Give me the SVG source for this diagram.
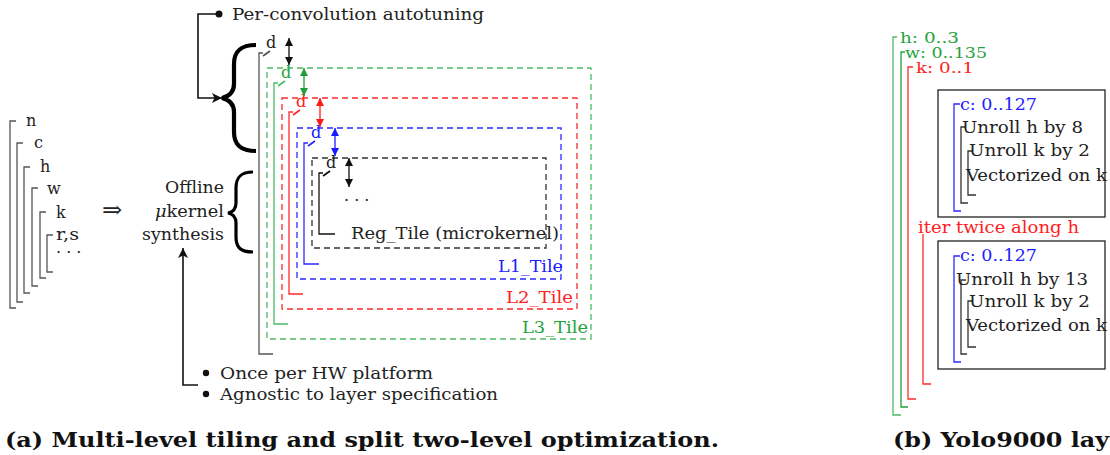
<svg xmlns="http://www.w3.org/2000/svg" width="1110" height="455" viewBox="0 0 1110 455">
<style>
text{font-family:"DejaVu Serif","Liberation Serif",serif;font-size:16px;fill:#222}
.sm{font-size:16px}
.lp{font-size:15px}
.cap{font-weight:bold;font-size:20px;fill:#111}
.br{fill:none;stroke:#555;stroke-width:1.3}
.k{fill:none;stroke:#111;stroke-width:1.3}
.g{fill:none;stroke:#4cbb66;stroke-width:1.3}
.gd{fill:none;stroke:#1f9e3c;stroke-width:1.3}
.r{fill:none;stroke:#ff2a2a;stroke-width:1.3}
.b{fill:none;stroke:#2a2aff;stroke-width:1.3}
.dash{stroke-dasharray:6 4}
.tg{fill:#1fa33b}.tr{fill:#ff2020}.tb{fill:#2020ff}
.ln{fill:none;stroke:#111;stroke-width:1.6}
.brace{fill:none;stroke:#000}
.sl{stroke-width:1.8}
</style>
<defs>
<marker id="ak" viewBox="0 0 8 8" refX="8" refY="4" markerWidth="8" markerHeight="8" markerUnits="userSpaceOnUse" orient="auto-start-reverse"><path d="M0,0L8,4L0,8z" fill="#111"/></marker>
<marker id="ag" viewBox="0 0 8 8" refX="8" refY="4" markerWidth="8" markerHeight="8" markerUnits="userSpaceOnUse" orient="auto-start-reverse"><path d="M0,0L8,4L0,8z" fill="#1f9e3c"/></marker>
<marker id="ar" viewBox="0 0 8 8" refX="8" refY="4" markerWidth="8" markerHeight="8" markerUnits="userSpaceOnUse" orient="auto-start-reverse"><path d="M0,0L8,4L0,8z" fill="#ff1a1a"/></marker>
<marker id="ab" viewBox="0 0 8 8" refX="8" refY="4" markerWidth="8" markerHeight="8" markerUnits="userSpaceOnUse" orient="auto-start-reverse"><path d="M0,0L8,4L0,8z" fill="#1a1aff"/></marker>
<marker id="big" viewBox="0 0 10 10" refX="10" refY="5" markerWidth="10" markerHeight="10" markerUnits="userSpaceOnUse" orient="auto"><path d="M0,0L10,5L0,10L2.5,5z" fill="#111"/></marker>
</defs>

<!-- (a) loop nest -->
<g id="loopnest">
<path class="br" d="M16,121H10V308H16"/>
<path class="br" d="M23,143H17V302H23"/>
<path class="br" d="M30,167H24V293H30"/>
<path class="br" d="M38,188H32V286H38"/>
<path class="br" d="M46,212H40V278H46"/>
<path class="br" d="M53,235H47V272H53"/>
<text x="26" y="126">n</text>
<text x="34" y="148">c</text>
<text x="40" y="172">h</text>
<text x="47" y="194">w</text>
<text x="56" y="218">k</text>
<text x="56" y="240" textLength="23" lengthAdjust="spacingAndGlyphs">r,s</text>
<text x="56" y="258">· · ·</text>
</g>
<g id="implies"><text x="102" y="218" style="font-size:24px">⇒</text></g>

<g id="offline">
<text x="224" y="193" text-anchor="end" textLength="59" lengthAdjust="spacingAndGlyphs">Offline</text>
<text x="224" y="217" text-anchor="end" textLength="69" lengthAdjust="spacingAndGlyphs"><tspan font-style="italic">μ</tspan>kernel</text>
<text x="224" y="240" text-anchor="end" textLength="82" lengthAdjust="spacingAndGlyphs">synthesis</text>
<path class="brace" stroke-width="3.2" d="M253,172C240,172 236,178 236,188V203C236,209 233,212 228,213C233,214 236,217 236,223V237C236,247 240,252 253,252"/>
</g>

<g id="autotune">
<path class="brace" stroke-width="4.2" d="M256,45C240,45 234,52 234,64V84C234,92 230,96 222,98C230,100 234,104 234,112V132C234,144 240,151 256,151"/>
<circle cx="219" cy="14" r="3.5" fill="#111"/>
<text x="232" y="20" textLength="252" lengthAdjust="spacingAndGlyphs">Per-convolution autotuning</text>
</g>

<g id="bullets">
<circle cx="206" cy="373" r="3.2" fill="#111"/>
<circle cx="206" cy="394" r="3.2" fill="#111"/>
<text x="220" y="379" textLength="213" lengthAdjust="spacingAndGlyphs">Once per HW platform</text>
<text x="220" y="400" textLength="278" lengthAdjust="spacingAndGlyphs">Agnostic to layer specification</text>
</g>

<!-- tiles -->
<g id="tiles">
<rect class="g dash" x="267" y="68" width="324" height="271"/>
<rect class="r dash" x="282" y="98" width="295" height="211"/>
<rect class="b dash" x="297" y="128" width="264" height="151"/>
<rect class="k dash" x="312" y="158" width="234" height="90" style="stroke:#333"/>

<path class="br" d="M263,53H259V354H273"/>
<path class="g" d="M278,83H274V324H288"/>
<path class="r" d="M293,112H289V294H303"/>
<path class="b" d="M308,143H304V264H319"/>
<path class="k" d="M323,173H319V234H335"/>

<path class="br sl" d="M263,56L270,51"/>
<path class="g sl" d="M278,86L285,81"/>
<path class="r sl" d="M293,115L300,110"/>
<path class="b sl" d="M308,146L315,141"/>
<path class="k sl" d="M323,176L330,171"/>

<text class="sm" x="266" y="48">d</text>
<text class="sm tg" x="281" y="78">d</text>
<text class="sm tr" x="296" y="107">d</text>
<text class="sm tb" x="311" y="138">d</text>
<text class="sm" x="326" y="168">d</text>

<text x="344" y="206">· · ·</text>
<text x="351" y="239" textLength="208" lengthAdjust="spacingAndGlyphs">Reg_Tile (microkernel)</text>
<text class="tb" x="563" y="272" text-anchor="end" textLength="65" lengthAdjust="spacingAndGlyphs">L1_Tile</text>
<text class="tr" x="573" y="303" text-anchor="end" textLength="67" lengthAdjust="spacingAndGlyphs">L2_Tile</text>
<text class="tg" x="588" y="333" text-anchor="end" textLength="66" lengthAdjust="spacingAndGlyphs">L3_Tile</text>
</g>

<!-- connectors -->
<g id="connectors">
<line x1="289" y1="38" x2="289" y2="65" stroke="#111" stroke-width="1.3" marker-start="url(#ak)" marker-end="url(#ak)"/>
<line x1="304" y1="68" x2="304" y2="96" stroke="#1f9e3c" stroke-width="1.3" marker-start="url(#ag)" marker-end="url(#ag)"/>
<line x1="320" y1="98" x2="320" y2="127" stroke="#ff1a1a" stroke-width="1.3" marker-start="url(#ar)" marker-end="url(#ar)"/>
<line x1="335" y1="128" x2="335" y2="156" stroke="#1a1aff" stroke-width="1.3" marker-start="url(#ab)" marker-end="url(#ab)"/>
<line x1="349" y1="158" x2="349" y2="187" stroke="#111" stroke-width="1.3" marker-start="url(#ak)" marker-end="url(#ak)"/>
<path class="ln" d="M219,14H198V98H222" marker-end="url(#big)"/>
<path class="ln" d="M198,385H183V248" marker-end="url(#big)"/>
</g>

<!-- (b) -->
<g id="yolo">
<path class="g" d="M897,37H893V415H901"/>
<path class="gd" d="M905,52H901V407H908"/>
<path class="r" d="M913,67H908V399H916"/>
<text class="tg lp" x="900" y="43" textLength="59" lengthAdjust="spacingAndGlyphs">h: 0..3</text>
<text class="tg lp" x="905" y="58" textLength="82" lengthAdjust="spacingAndGlyphs">w: 0..135</text>
<text class="tr lp" x="916" y="73" textLength="58" lengthAdjust="spacingAndGlyphs">k: 0..1</text>

<rect x="938" y="90" width="167" height="127" fill="none" stroke="#222" stroke-width="1.3"/>
<path class="b" d="M960,104H954V211H961"/>
<path class="k" d="M966,127H961V203H968" style="stroke:#333"/>
<path class="k" d="M973,151H968V195H976" style="stroke:#333"/>
<text class="tb" x="960" y="110" textLength="77" lengthAdjust="spacingAndGlyphs">c: 0..127</text>
<text x="962" y="133" textLength="121" lengthAdjust="spacingAndGlyphs">Unroll h by 8</text>
<text x="969" y="156" textLength="121" lengthAdjust="spacingAndGlyphs">Unroll k by 2</text>
<text x="966" y="181" textLength="141" lengthAdjust="spacingAndGlyphs">Vectorized on k</text>

<text class="tr" x="918" y="233" textLength="161" lengthAdjust="spacingAndGlyphs">iter twice along h</text>
<path class="r" d="M923,234V384H931"/>

<rect x="938" y="241" width="167" height="128" fill="none" stroke="#222" stroke-width="1.3"/>
<path class="b" d="M960,256H954V362H961"/>
<path class="k" d="M966,280H961V354H967" style="stroke:#333"/>
<path class="k" d="M973,301H968V347H976" style="stroke:#333"/>
<text class="tb" x="960" y="261" textLength="77" lengthAdjust="spacingAndGlyphs">c: 0..127</text>
<text x="956" y="285" textLength="132" lengthAdjust="spacingAndGlyphs">Unroll h by 13</text>
<text x="969" y="307" textLength="121" lengthAdjust="spacingAndGlyphs">Unroll k by 2</text>
<text x="966" y="331" textLength="141" lengthAdjust="spacingAndGlyphs">Vectorized on k</text>
</g>

<g id="captions">
<text class="cap" x="5" y="447" textLength="714" lengthAdjust="spacingAndGlyphs">(a) Multi-level tiling and split two-level optimization.</text>
<text class="cap" x="893" y="447" textLength="216" lengthAdjust="spacingAndGlyphs">(b) Yolo9000 lay</text>
</g>
</svg>
